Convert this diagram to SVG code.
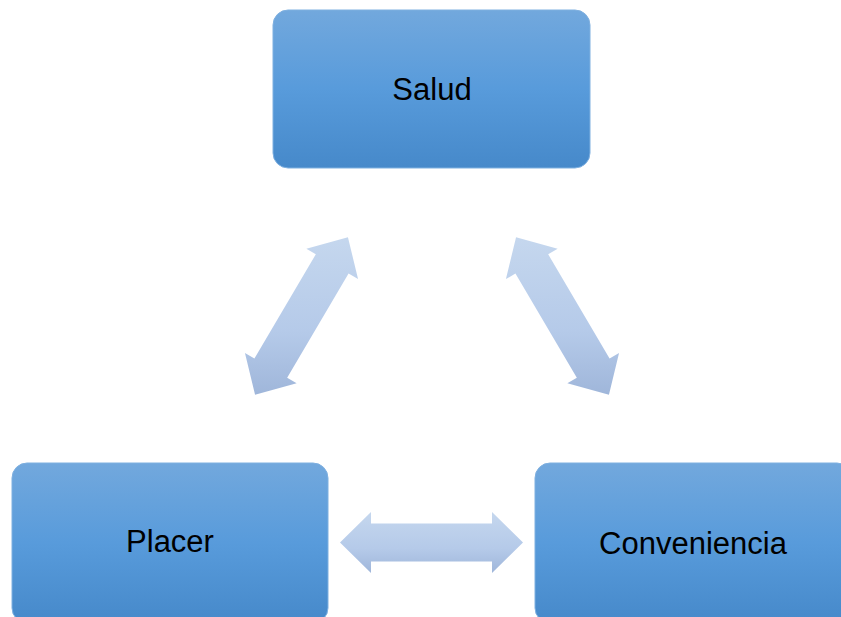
<svg xmlns="http://www.w3.org/2000/svg" width="841" height="617" viewBox="0 0 841 617">
<defs>
<linearGradient id="boxg" x1="0" y1="0" x2="0" y2="1">
<stop offset="0" stop-color="#72a8dd"/>
<stop offset="0.5" stop-color="#589bdb"/>
<stop offset="1" stop-color="#4689ca"/>
</linearGradient>
<linearGradient id="arrg" x1="0" y1="0" x2="0" y2="1">
<stop offset="0" stop-color="#c5d7ee"/>
<stop offset="0.6" stop-color="#b5cae9"/>
<stop offset="1" stop-color="#9fb6da"/>
</linearGradient>
<style>
.box{fill:url(#boxg);stroke:#7fb0e0;stroke-width:1}
.lbl{font-family:"Liberation Sans",Arial,sans-serif;font-size:31px;fill:#000;text-anchor:middle}
.arr{fill:url(#arrg);stroke:none}
</style>
</defs>
<rect width="841" height="617" fill="#fff"/>
<g id="connectors">
<polygon class="arr" points="255.06,394.84 244.95,352.90 254.43,358.49 315.83,254.23 306.35,248.64 347.94,237.16 358.05,279.10 348.57,273.51 287.17,377.77 296.65,383.36"/>
<polygon class="arr" points="608.94,394.84 619.05,352.90 609.57,358.49 548.17,254.23 557.65,248.64 516.06,237.16 505.95,279.10 515.43,273.51 576.83,377.77 567.35,383.36"/>
<polygon class="arr" points="340,542.5 371,512 371,523.5 492,523.5 492,512 523,542.5 492,573 492,561.5 371,561.5 371,573"/>
</g>
<g id="salud">
<rect class="box" x="273" y="10" width="317" height="158" rx="15"/>
<text class="lbl" x="432" y="100">Salud</text>
</g>
<g id="placer">
<rect class="box" x="12" y="463" width="316" height="160" rx="15"/>
<text class="lbl" x="170" y="552">Placer</text>
</g>
<g id="conveniencia">
<rect class="box" x="535" y="463" width="317" height="160" rx="15"/>
<text class="lbl" x="693" y="554">Conveniencia</text>
</g>
</svg>
